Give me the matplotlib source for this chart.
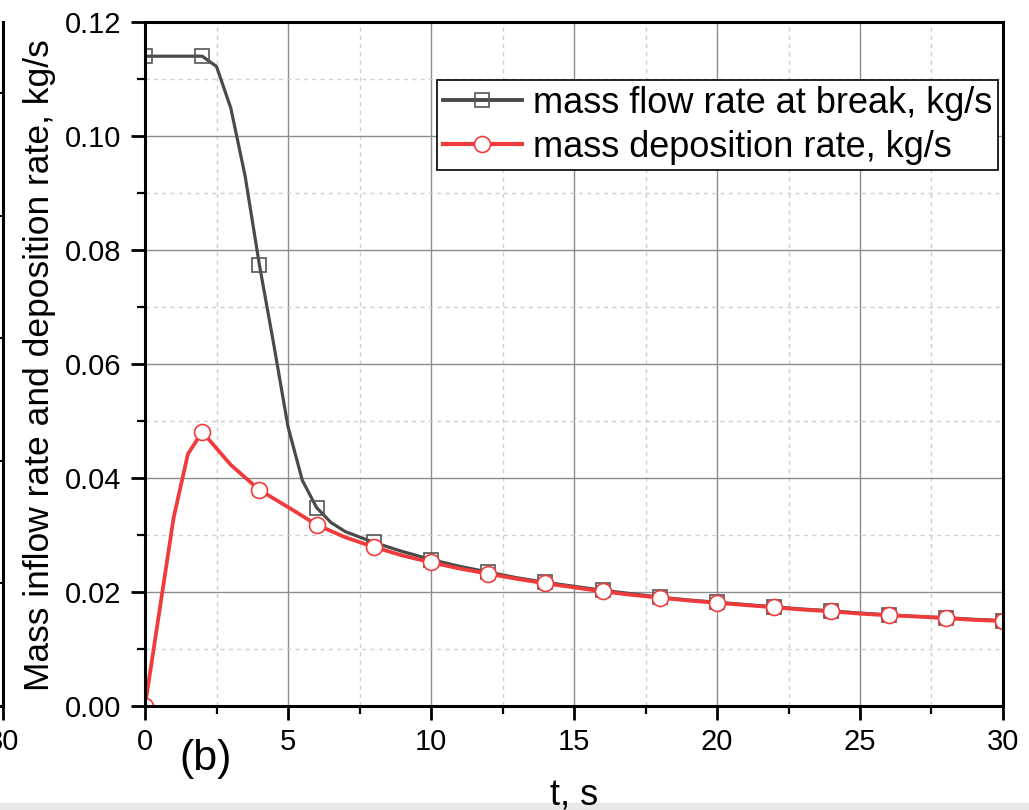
import matplotlib
matplotlib.use('Agg')
import matplotlib.pyplot as plt
from matplotlib.patches import Rectangle
from matplotlib.ticker import MultipleLocator

plt.rcParams['font.family'] = ['Liberation Sans', 'DejaVu Sans']

# mass flow rate at break (line points) and marker points every 2 s
t_break = [0, 1, 2, 2.5, 3, 3.5, 4, 4.5, 5, 5.5, 6, 6.5, 7, 8, 9, 10, 11, 12, 13, 14, 15, 16,
           17, 18, 19, 20, 21, 22, 23, 24, 25, 26, 27, 28, 29, 30]
m_break = [0.1140, 0.1140, 0.1140, 0.1122, 0.1049, 0.0930, 0.0774, 0.0635, 0.0490, 0.0396,
           0.0348, 0.0322, 0.0306, 0.0287, 0.0271, 0.0257, 0.0245, 0.0235, 0.0225, 0.0217,
           0.0210, 0.0203, 0.0197, 0.0191, 0.0186, 0.0182, 0.0178, 0.0174, 0.0170, 0.0167,
           0.0163, 0.0160, 0.0157, 0.0155, 0.0152, 0.0150]

# mass deposition rate
t_dep = [0, 1, 1.5, 2, 3, 4, 5, 6, 7, 8, 9, 10, 11, 12, 13, 14, 15, 16, 17, 18, 19, 20,
         21, 22, 23, 24, 25, 26, 27, 28, 29, 30]
m_dep = [0.0000, 0.0330, 0.0442, 0.0481, 0.0423, 0.0379, 0.0349, 0.0318, 0.0296, 0.0279,
         0.0264, 0.0252, 0.0241, 0.0232, 0.0223, 0.0215, 0.0208, 0.0201, 0.0195, 0.0190,
         0.0185, 0.0181, 0.0177, 0.0173, 0.0169, 0.0166, 0.0162, 0.0159, 0.0157, 0.0154,
         0.0151, 0.0149]

label_break = 'mass flow rate at break, kg/s'
label_dep = 'mass deposition rate, kg/s'

c_black = '#4a4a4a'
c_red = '#ef3b3b'

fig = plt.figure(figsize=(10.29, 8.10), dpi=100)
W, H = 1029.0, 810.0

# gray strip at the bottom of the crop
fig.patches.append(Rectangle((0, 0), 1, 7 / H, transform=fig.transFigure,
                             color='#e8e8e8', zorder=0))

ax_l, ax_r, ax_t, ax_b = 145 / W, 1003 / W, 1 - 22 / H, 1 - 706 / H

# edge of neighbouring panel (a), cut off on the left
axa = fig.add_axes([-0.3, ax_b, 0.3 + 3 / W, ax_t - ax_b])
axa.set_xlim(0, 30)
axa.set_ylim(0, 5.58)
for s in ['top', 'left']:
    axa.spines[s].set_visible(False)
for s in ['right', 'bottom']:
    axa.spines[s].set_linewidth(2.2)
axa.set_xticks([30])
axa.set_xticklabels(['30'], fontsize=21)
axa.tick_params(axis='x', direction='out', length=10, width=2, pad=6)
axa.yaxis.set_ticks_position('right')
axa.set_yticks([0, 1, 2, 3, 4, 5])
axa.tick_params(axis='y', direction='in', length=4, width=1.5, labelright=False)

ax = fig.add_axes([ax_l, ax_b, ax_r - ax_l, ax_t - ax_b])
ax.set_xlim(0, 30)
ax.set_ylim(0, 0.12)

ax.xaxis.set_major_locator(MultipleLocator(5))
ax.xaxis.set_minor_locator(MultipleLocator(2.5))
ax.yaxis.set_major_locator(MultipleLocator(0.02))
ax.yaxis.set_minor_locator(MultipleLocator(0.01))
ax.yaxis.set_major_formatter(matplotlib.ticker.FormatStrFormatter('%.2f'))

ax.grid(which='major', color='#8c8c8c', linewidth=1.0, linestyle='-')
ax.grid(which='minor', color='#cfcfcf', linewidth=1.0, linestyle=(0, (3, 3)))
ax.set_axisbelow(True)

for s in ax.spines.values():
    s.set_linewidth(2.2)
    s.set_zorder(5)

ax.tick_params(which='major', direction='out', length=10, width=2, labelsize=21)
ax.tick_params(axis='x', which='major', pad=6)
ax.tick_params(axis='y', which='major', pad=7)
ax.tick_params(which='minor', direction='out', length=6, width=1.6)

# black line with square markers every 2 s
ax.plot(t_break, m_break, color=c_black, linewidth=2.3, zorder=3)
tb_m = [t for t in t_break if t % 2 == 0]
mb_m = [m for t, m in zip(t_break, m_break) if t % 2 == 0]
ax.plot(tb_m, mb_m, linestyle='none', marker='s', markersize=10,
        markerfacecolor='none', markeredgecolor='#555555', markeredgewidth=1.2, zorder=3)

# red line with circle markers every 2 s
ax.plot(t_dep, m_dep, color=c_red, linewidth=2.7, zorder=4)
td_m = [t for t in t_dep if t % 2 == 0]
md_m = [m for t, m in zip(t_dep, m_dep) if t % 2 == 0]
ax.plot(td_m, md_m, linestyle='none', marker='o', markersize=11.5,
        markerfacecolor='white', markeredgecolor=c_red, markeredgewidth=1.2, zorder=4)

# legend proxies
h1, = ax.plot([], [], color=c_black, linewidth=2.8, marker='s', markersize=10,
              markerfacecolor='none', markeredgecolor='#555555', markeredgewidth=1.2)
h2, = ax.plot([], [], color=c_red, linewidth=3.0, marker='o', markersize=11.5,
              markerfacecolor='white', markeredgecolor=c_red, markeredgewidth=1.2)
leg = ax.legend([h1, h2], [label_break, label_dep], loc='upper right',
                bbox_to_anchor=(0.9936, 0.915), fontsize=26, frameon=True,
                fancybox=False, framealpha=1, edgecolor='black', handlelength=2.2,
                handletextpad=0.3, borderpad=0.15, labelspacing=0.25,
                borderaxespad=0)
leg.get_frame().set_linewidth(1.2)
leg.set_zorder(6)

fig.text(40 / W, 1 - 365 / H, 'Mass inflow rate and deposition rate, kg/s',
         rotation=90, ha='center', va='center', fontsize=25.5)
fig.text(574 / W, 1 - 805 / H, 't, s', ha='center', va='baseline', fontsize=26)
fig.text(206 / W, 1 - 759 / H, '(b)', ha='center', va='center', fontsize=31)

fig.savefig('out.png', dpi=100)
